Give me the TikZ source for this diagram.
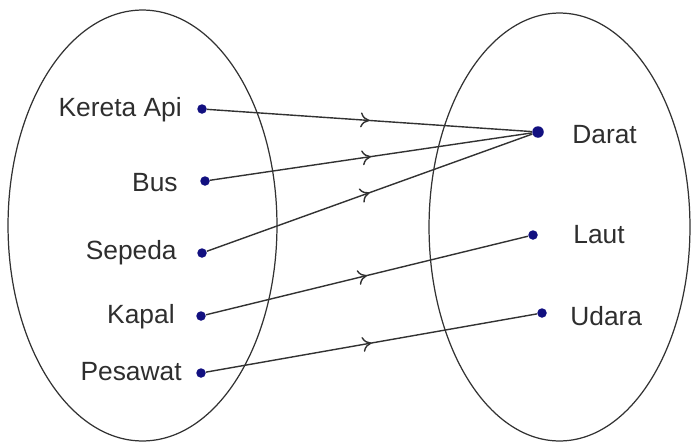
\documentclass[tikz,border=0pt]{standalone}
\usepackage{fontspec}
\setmainfont{Liberation Sans}
\usepackage{tikz}
\usetikzlibrary{arrows.meta,decorations.markings}
\tikzset{>=latex}
\definecolor{titikbiru}{RGB}{18,16,128}
\definecolor{garis}{RGB}{50,50,50}
\tikzset{
  titik/.style={circle, fill=titikbiru, inner sep=0pt, minimum size=0.19cm},
  teks/.style={inner sep=0pt, text=black!82, font=\fontsize{15}{18}\selectfont},
  panah/.style={draw=garis, line width=0.8pt, postaction={decorate},
    decoration={markings, mark=at position 0.5 with {\arrow{To[length=1.8mm,width=3mm]}}}}
}

\begin{document}
\begin{tikzpicture}[x=0.02cm,y=-0.02cm]
    \useasboundingbox (0,0) rectangle (692,443);
    % himpunan A dan B
    \draw[garis, line width=0.7pt] (142.5,225.5) ellipse [x radius=2.69cm, y radius=4.31cm];
    \draw[garis, line width=0.7pt] (559.5,227) ellipse [x radius=2.61cm, y radius=4.28cm];
      % anggota kiri
      \node[titik] (ka) at (202,109) {};
      \node[titik] (bus) at (205,181) {};
      \node[titik] (sepeda) at (202,253) {};
      \node[titik] (kapal) at (201,316) {};
      \node[titik] (pesawat) at (201,373) {};
      \node[teks, anchor=base east] (tka) at (182,116) {Kereta Api};
      \node[teks, anchor=base east] (tbus) at (178,191) {Bus};
      \node[teks, anchor=base east] (tsepeda) at (177,259) {Sepeda};
      \node[teks, anchor=base east] (tkapal) at (175,323) {Kapal};
      \node[teks, anchor=base east] (tpesawat) at (182,380) {Pesawat};
      % anggota kanan
      \node[titik, minimum size=0.23cm] (darat) at (538,132) {};
      \node[titik] (laut) at (533,235) {};
      \node[titik] (udara) at (542,313) {};
      \node[teks, anchor=base west] (tdarat) at (572,143) {Darat};
      \node[teks, anchor=base west] (tlaut) at (573,243) {Laut};
      \node[teks, anchor=base west] (tudara) at (570,325) {Udara};
      % relasi
      \draw[panah] (ka) -- (darat);
      \draw[panah] (bus) -- (darat);
      \draw[panah] (sepeda) -- (darat);
      \draw[panah] (kapal) -- (laut);
      \draw[panah] (pesawat) -- (udara);
\end{tikzpicture}
\end{document}
